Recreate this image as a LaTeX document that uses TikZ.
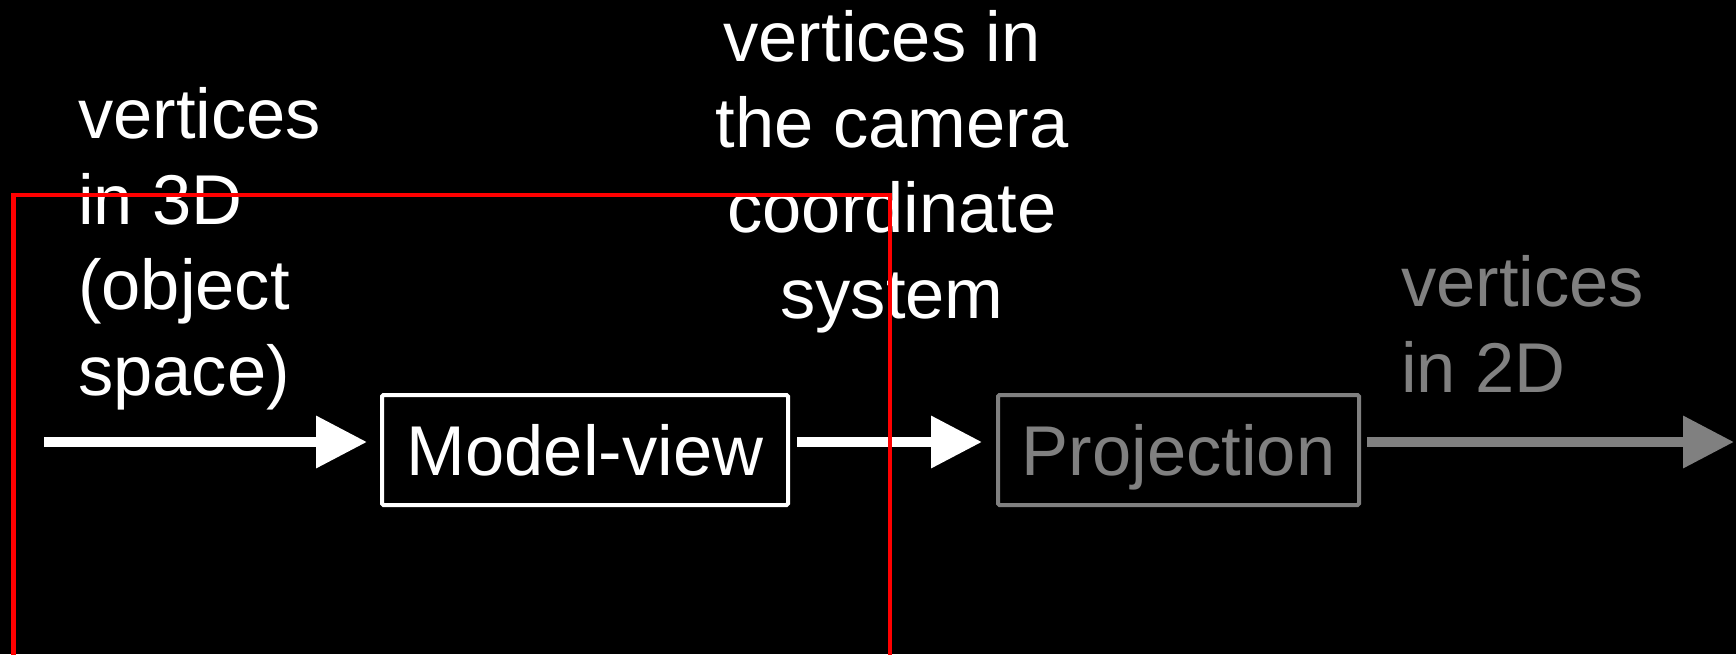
\documentclass[tikz,border=0pt]{standalone}
\usepackage{fontspec}
\setmainfont{Liberation Sans}
\usetikzlibrary{arrows.meta}
\begin{document}
\begin{tikzpicture}[x=1pt,y=-1pt,
    big/.style={font=\fontsize{70.5pt}{85.5pt}\selectfont},
    label/.style={big,inner sep=0pt,text=white},
    stage/.style={big,draw=white,text=white,line width=4pt,rounded corners=1.5pt,
      minimum height=110pt,text height=50pt,text depth=0pt,inner sep=0pt},
    flow/.style={line width=10pt,white,-{Triangle[length=51pt,width=50pt]}}]
  \useasboundingbox[fill=black] (0,0) rectangle (1736,654);
  % texts (placed by the baseline of their last line)
  \node[label,align=left,anchor=base west] (objtxt) at (78,395)
    {vertices\\in 3D\\(object\\space)};
  \node[label,align=center,anchor=base] (camtxt) at (892,318)
    {vertices in\hspace*{0.278em}\\the camera\\coordinate\hspace*{0.278em}\\system};
  \node[label,align=left,anchor=base west,text=gray] (flattxt) at (1401,392)
    {vertices\\in 2D};
  % stages
  \node[stage,minimum width=406pt] (mv) at (585,450) {Model-view};
  \node[stage,minimum width=361pt,draw=gray,text=gray] (proj) at (1178.5,450) {Projection};
  \coordinate (src) at (44,442);
  \coordinate (dst) at (1734,442);
  \begin{scope}
    \draw[flow,shorten >=13pt] (src) -- (mv.west |- src);
    \draw[flow,shorten <=7pt,shorten >=14pt] (mv.east |- src) -- (proj.west |- src);
    \draw[flow,gray,shorten <=6pt] (proj.east |- src) -- (dst);
  \end{scope}
  % red frame
  \draw[red,line width=4.5pt] (13.5,660) -- (13.5,195) -- (890,195) -- (890,660);
\end{tikzpicture}
\end{document}
